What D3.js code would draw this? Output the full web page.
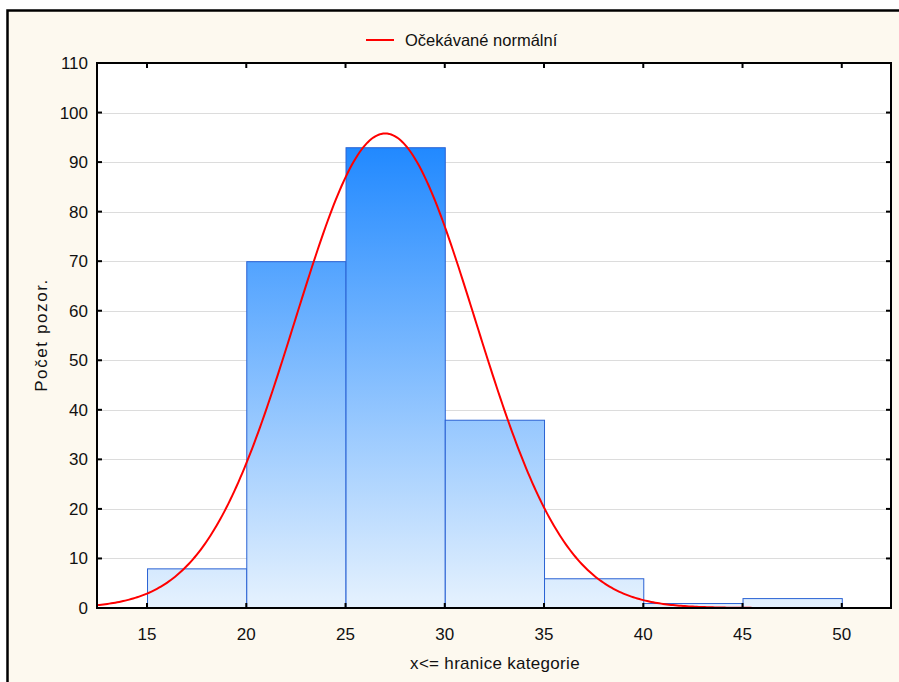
<!DOCTYPE html>
<html>
<head>
<meta charset="utf-8">
<script src="https://cdn.jsdelivr.net/npm/d3@7"></script>
<style>
  body { margin: 0; background: #fff; }
  text { font-family: Arial, "Liberation Sans", sans-serif; fill: #111; }
</style>
</head>
<body>
<div id="chart"></div>
<script>
// histogram bins (upper bound x <= ...) and counts
var binStarts = [15, 20, 25, 30, 35, 40, 45];
var binWidth = 5;
var counts = [8, 70, 93, 38, 6, 1, 2];
var xTicks = [15, 20, 25, 30, 35, 40, 45, 50];
var yTicks = [0, 10, 20, 30, 40, 50, 60, 70, 80, 90, 100, 110];
// expected normal curve parameters
var normMean = 27.0;
var normSd = 4.54;
var normN = 218;

var W = 899, H = 682;
var m = { left: 97, right: 891, top: 63, bottom: 608 };

var svg = d3.select("#chart").append("svg")
  .attr("width", W)
  .attr("height", H);

// outer panel
svg.append("rect")
  .attr("x", 7.5).attr("y", 10.5)
  .attr("width", W + 20).attr("height", H + 20)
  .attr("fill", "#fdf9ef")
  .attr("stroke", "#000")
  .attr("stroke-width", 2.5);

var x = d3.scaleLinear().domain([12.48, 52.48]).range([m.left, m.right]);
var y = d3.scaleLinear().domain([0, 110]).range([m.bottom, m.top]);

var defs = svg.append("defs");
var grad = defs.append("linearGradient")
  .attr("id", "barGrad")
  .attr("gradientUnits", "userSpaceOnUse")
  .attr("x1", 0).attr("x2", 0)
  .attr("y1", y(93)).attr("y2", y(0));
grad.append("stop").attr("offset", 0).attr("stop-color", "#2189ff");
grad.append("stop").attr("offset", 1).attr("stop-color", "#e6f2fe");

defs.append("clipPath").attr("id", "plotClip")
  .append("rect")
  .attr("x", m.left).attr("y", m.top)
  .attr("width", m.right - m.left).attr("height", m.bottom - m.top);

// plot background
svg.append("rect")
  .attr("x", m.left).attr("y", m.top)
  .attr("width", m.right - m.left).attr("height", m.bottom - m.top)
  .attr("fill", "#fff");

// gridlines
svg.append("g")
  .selectAll("line")
  .data(yTicks.slice(1, -1))
  .enter().append("line")
  .attr("x1", m.left).attr("x2", m.right)
  .attr("y1", function(d) { return Math.round(y(d)) + 0.5; })
  .attr("y2", function(d) { return Math.round(y(d)) + 0.5; })
  .attr("stroke", "#dcdcdc")
  .attr("stroke-width", 1);

// bars
var bins = binStarts.map(function(s, i) { return { x0: s, x1: s + binWidth, n: counts[i] }; });
svg.append("g")
  .selectAll("rect")
  .data(bins)
  .enter().append("rect")
  .attr("x", function(d) { return x(d.x0) + 0.5; })
  .attr("y", function(d) { return y(d.n) + 0.5; })
  .attr("width", function(d) { return x(d.x1) - x(d.x0); })
  .attr("height", function(d) { return y(0) - y(d.n); })
  .attr("fill", "url(#barGrad)")
  .attr("stroke", "#2a62d4")
  .attr("stroke-width", 1);

// expected normal curve
var curveX = d3.range(12.4, 52.6, 0.1);
function expected(v) {
  var z = (v - normMean) / normSd;
  return normN * binWidth * Math.exp(-0.5 * z * z) / (normSd * Math.sqrt(2 * Math.PI));
}
svg.append("path")
  .datum(curveX)
  .attr("clip-path", "url(#plotClip)")
  .attr("fill", "none")
  .attr("stroke", "#ff0000")
  .attr("stroke-width", 2)
  .attr("d", d3.line()
    .x(function(d) { return x(d); })
    .y(function(d) { return y(expected(d)); }));

// plot frame
svg.append("rect")
  .attr("x", m.left).attr("y", m.top)
  .attr("width", m.right - m.left).attr("height", m.bottom - m.top)
  .attr("fill", "none")
  .attr("stroke", "#000")
  .attr("stroke-width", 2);

// inside ticks on all four sides
var tk = 5;
var ticks = svg.append("g").attr("stroke", "#000").attr("stroke-width", 2);
yTicks.forEach(function(d) {
  var yy = y(d);
  ticks.append("line").attr("x1", m.left).attr("x2", m.left + tk).attr("y1", yy).attr("y2", yy);
  ticks.append("line").attr("x1", m.right - tk).attr("x2", m.right).attr("y1", yy).attr("y2", yy);
});
xTicks.forEach(function(d) {
  var xx = x(d);
  ticks.append("line").attr("x1", xx).attr("x2", xx).attr("y1", m.bottom).attr("y2", m.bottom - tk);
  ticks.append("line").attr("x1", xx).attr("x2", xx).attr("y1", m.top).attr("y2", m.top + tk);
});

// tick labels
svg.append("g")
  .selectAll("text")
  .data(yTicks)
  .enter().append("text")
  .attr("x", 88)
  .attr("y", function(d) { return y(d) + 6; })
  .attr("text-anchor", "end")
  .style("font-size", "17px")
  .text(function(d) { return d; });

svg.append("g")
  .selectAll("text")
  .data(xTicks)
  .enter().append("text")
  .attr("x", function(d) { return x(d); })
  .attr("y", 640)
  .attr("text-anchor", "middle")
  .style("font-size", "17px")
  .text(function(d) { return d; });

// axis titles
svg.append("text")
  .attr("x", 495)
  .attr("y", 669)
  .attr("text-anchor", "middle")
  .style("font-size", "17px")
  .style("letter-spacing", "0.3px")
  .text("x<= hranice kategorie");

svg.append("text")
  .attr("transform", "translate(47,335) rotate(-90)")
  .attr("text-anchor", "middle")
  .style("font-size", "17px")
  .style("letter-spacing", "1.6px")
  .text("Počet pozor.");

// legend
svg.append("line")
  .attr("x1", 366).attr("x2", 394)
  .attr("y1", 40).attr("y2", 40)
  .attr("stroke", "#ff0000")
  .attr("stroke-width", 2);
svg.append("text")
  .attr("x", 405)
  .attr("y", 46)
  .style("font-size", "16.5px")
  .text("Očekávané normální");
</script>
</body>
</html>
